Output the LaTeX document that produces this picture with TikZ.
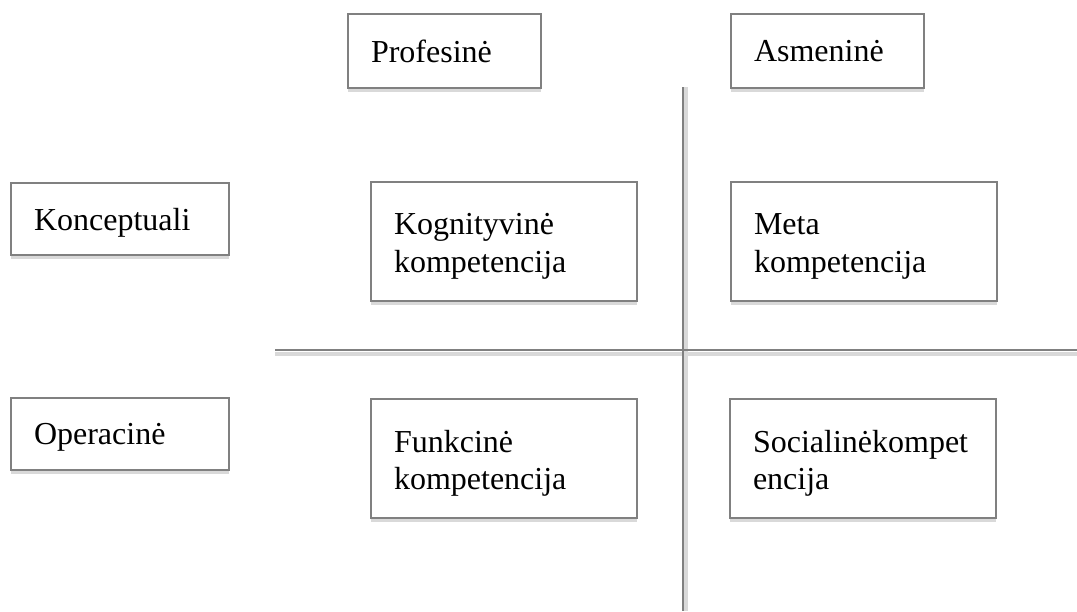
\documentclass[tikz,border=0pt]{standalone}
\usepackage{fontspec}
\setmainfont{Liberation Serif}
\usetikzlibrary{positioning,shadows}
\definecolor{frame}{RGB}{128,128,128}
\definecolor{shade}{RGB}{217,217,217}
\tikzset{
	cell/.style={
		rectangle, anchor=north west, draw=frame, line width=1pt, fill=white,
		inner xsep=11pt, inner ysep=0pt, align=left,
		font=\fontsize{16pt}{18.8pt}\selectfont,
		drop shadow={shadow xshift=0pt, shadow yshift=-2pt, fill=shade, opacity=1}
	},
	%
	head/.style={
		cell, minimum width=96.5pt, minimum height=37pt, text width=73.5pt
	},
	%
	side/.style={
		cell, minimum width=109pt, minimum height=36pt, text width=86pt,
		text depth=-1.5pt
	},
	%
	comp/.style={
		cell, minimum width=133pt, minimum height=59.5pt, text width=110pt,
		text depth=17.5pt
	},
	%
	axis/.style={draw=frame, line width=1pt},
	axisshade/.style={draw=shade, line width=2pt}
}

\begin{document}
\begin{tikzpicture}[x=0.5pt, y=-0.5pt]
    \useasboundingbox (0,0) rectangle (1077,611);
    % axes
    \coordinate (vtop) at (683,87);
    \coordinate (vbot) at (683,611);
    \coordinate (hleft) at (275,350);
    \coordinate (hright) at (1077,350);
    \draw[axisshade] ([yshift=-2pt]hleft) -- ([yshift=-2pt]hright);
    \draw[axisshade] ([xshift=1.5pt]vtop) -- ([xshift=1.5pt]vbot);
    \draw[axis] (hleft) -- (hright);
    \draw[axis] (vtop) -- (vbot);
    % column headings
    \node(prof)[head] at (347,13) {Profesinė};
    \node(asm)[head, right=94pt of prof.north east, anchor=north west] {Asmeninė};
    % row headings
    \node(konc)[side] at (10,182) {Konceptuali};
    \node(oper)[side] at (10,397) {Operacinė};
    % competences
    \node(kog)[comp, below=46pt of prof.south west, anchor=north west, xshift=11.5pt] {Kognityvinė\\ kompetencija};
    \node(meta)[comp, right=46pt of kog.north east, anchor=north west] {Meta\\ kompetencija};
    \node(funk)[comp, below=48pt of kog.south west, anchor=north west] {Funkcinė\\ kompetencija};
    \node(soc)[comp, right=45.5pt of funk.north east, anchor=north west] {Socialinėkompet\\ encija};
\end{tikzpicture}
\end{document}
